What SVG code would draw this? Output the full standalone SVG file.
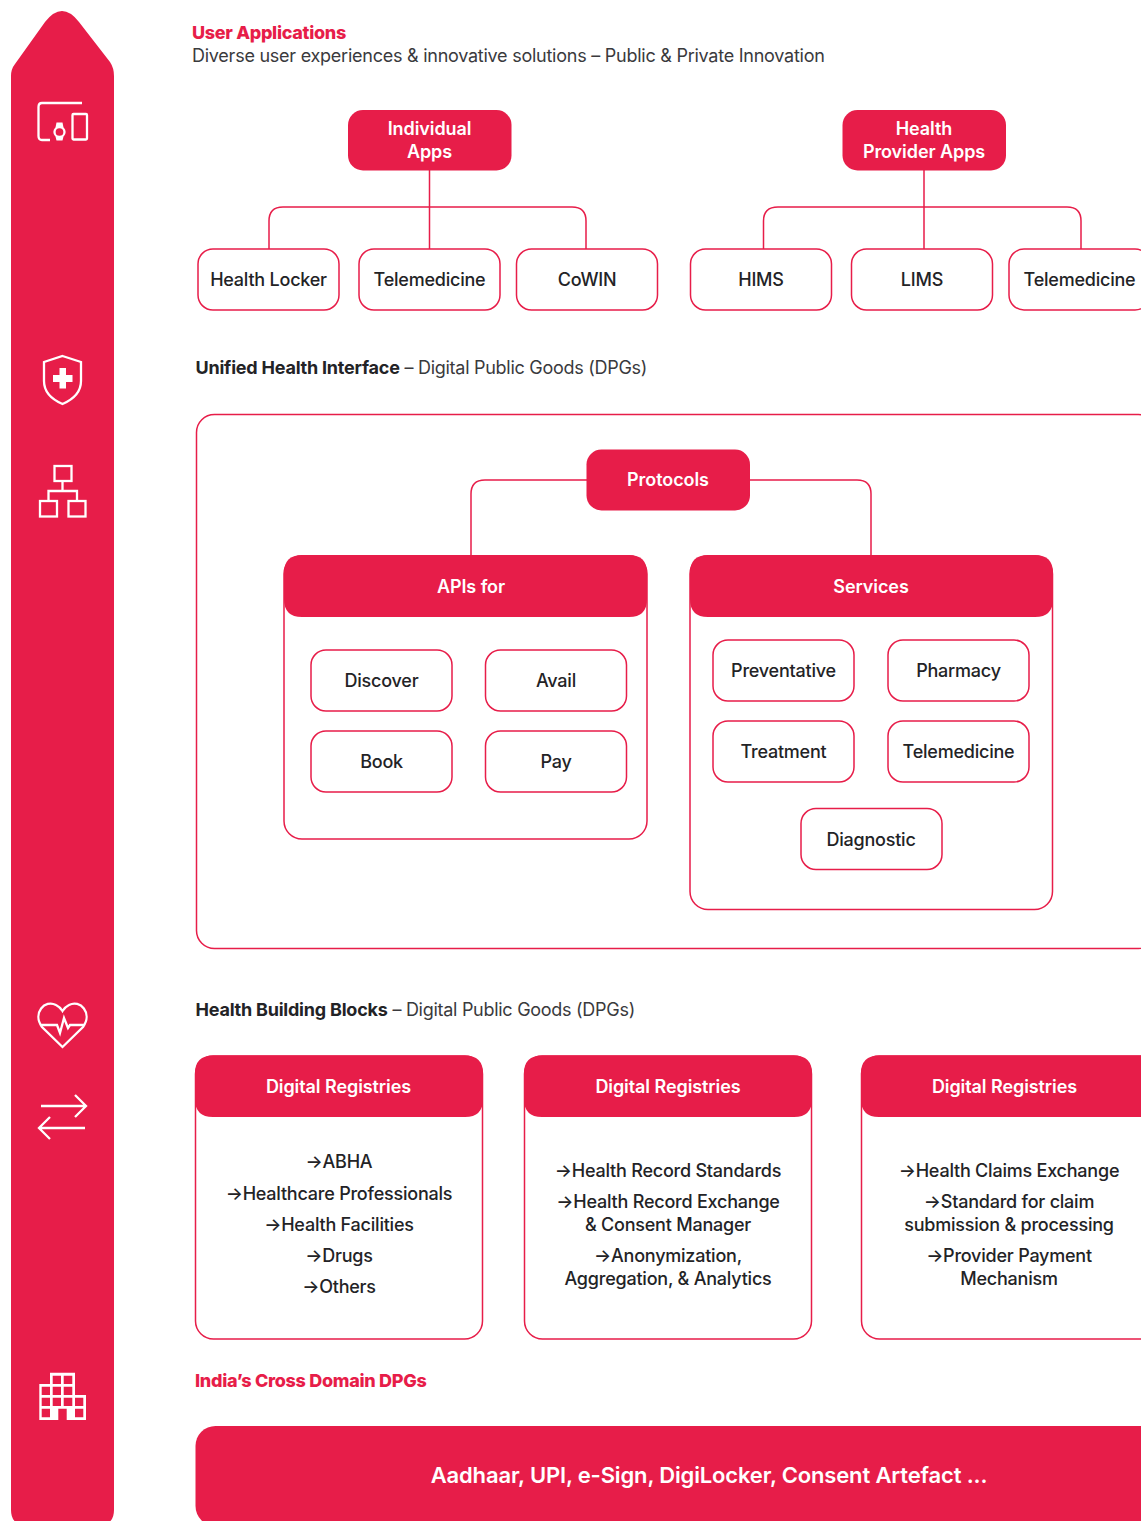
<svg xmlns="http://www.w3.org/2000/svg" width="1141" height="1521" viewBox="0 0 1141 1521">
<style>
text{font-family:Inter,"Liberation Sans",sans-serif;text-anchor:middle;font-size:18px;font-weight:500;fill:#232326;letter-spacing:-.22px}
.w{fill:#fff;font-weight:600;letter-spacing:-.08px}
.o{fill:#fff;stroke:#e71d49;stroke-width:1.5}
.f{fill:#e71d49}
.c{fill:none;stroke:#e71d49;stroke-width:1.5}
.i{fill:none;stroke:#fff;stroke-width:2.3}
.h{text-anchor:start}
.b{font-weight:700;letter-spacing:-.22px}
.r{font-weight:400;fill:#3a3a3d;letter-spacing:-.28px}
.red{fill:#e71d49;font-weight:800;letter-spacing:-.3px}
</style>
<defs>
<path id="hd" d="M0 61.500V18Q0 0 18 0H270Q288 0 288 18V43.500Q288 61.500 270 61.500H18Q0 61.500 0 43.500Z"/>
</defs>
<g id="rail">
<path class="f" d="M11 76Q11 69 15 64L45 22Q62 0 79 22L110 62Q114 68 114 76V1510Q114 1525 99 1525H26Q11 1525 11 1510Z"/>
<g class="i">
<path d="M82 103H42Q38.500 103 38.500 107V136Q38.500 140 42 140H50"/>
<rect x="72.500" y="114" width="14.500" height="25.500" rx="1"/>
<circle cx="59.500" cy="132" r="5"/>
<path d="M62.500 356L81 362V381Q81 396 62.500 404Q44 396 44 381V362Z"/>
<rect x="54.500" y="466" width="17" height="15"/>
<rect x="40" y="501" width="17" height="15.500"/>
<rect x="68.500" y="501" width="17" height="15.500"/>
<path d="M62.500 481V491M48.500 501V491H77V501"/>
<path d="M62.500 1047L42 1027C32 1013 45 999 56 1005Q60 1007 62.500 1011Q65 1007 69 1005C80 999 93 1013 83 1027Z"/>
<path d="M41 1025H57L60 1033L64 1018L68 1028L70 1025H84"/>
<path d="M41 1106H86M75 1095L86 1106L75 1117"/>
<path d="M85 1128H40M50 1117L39 1128L50 1139"/>
</g>
<path fill="#fff" d="M55.500 127.500L56.500 122.500H62.500L63.500 127.500ZM55.500 136.500L56.500 140.500H62.500L63.500 136.500Z"/>
<path fill="#fff" d="M59.500 368H66V375H72.500V382H66V388.500H59.500V382H53V375H59.500Z"/>
<path fill="#fff" fill-rule="evenodd" d="M50 1372.700H75V1395H86V1420H39.300V1384H50ZM52.700 1375.700V1384H61V1375.700ZM63.700 1375.700V1384H72.300V1375.700ZM41.700 1386.700V1395H50V1386.700ZM52.700 1386.700V1395H61V1386.700ZM63.700 1386.700V1395H72.300V1386.700ZM41.700 1397.700V1406H50V1397.700ZM52.700 1397.700V1406H61V1397.700ZM63.700 1397.700V1406H72.300V1397.700ZM75 1397.700V1406H83.300V1397.700ZM41.700 1408.700V1417.300H50V1408.700ZM75 1408.700V1417.300H83.300V1408.700ZM58.300 1408.700V1420H66.700V1408.700Z"/>
</g>
<g id="uhi"><rect class="o" x="196.500" y="414.500" width="960" height="534" rx="18"/></g>
<g id="connectors" class="c">
<path d="M429.500 170V249M269 249V221Q269 207 283 207H572Q586 207 586 221V249"/>
<path d="M924 170V249M763.500 249V221Q763.500 207 778 207H1067Q1081 207 1081 221V249"/>
<path d="M587 480H485Q471 480 471 494V555M750 480H857Q871 480 871 494V555"/>
</g>
<g id="titles">
<text class="h red" x="192" y="39">User Applications</text>
<text class="h r" x="192" y="62" style="letter-spacing:-.25px">Diverse user experiences &amp; innovative solutions – Public &amp; Private Innovation</text>
<text class="h" x="195.500" y="374"><tspan class="b">Unified Health Interface</tspan><tspan class="r"> – Digital Public Goods (DPGs)</tspan></text>
<text class="h" x="195.500" y="1016"><tspan class="b">Health Building Blocks</tspan><tspan class="r"> – Digital Public Goods (DPGs)</tspan></text>
<text class="h red" x="195" y="1387">India’s Cross Domain DPGs</text>
</g>
<g id="individual-apps"><rect class="f" x="348" y="110" width="163.500" height="60.500" rx="15"/><text class="w" x="429.500" y="135">Individual</text><text class="w" x="429.500" y="158">Apps</text></g>
<g id="provider-apps"><rect class="f" x="842.500" y="110" width="163.500" height="60.500" rx="15"/><text class="w" x="924" y="135">Health</text><text class="w" x="924" y="158">Provider Apps</text></g>
<g id="health-locker"><rect class="o" x="198" y="249" width="141" height="61" rx="15"/><text x="268.500" y="286">Health Locker</text></g>
<g id="telemedicine-1"><rect class="o" x="359" y="249" width="141" height="61" rx="15"/><text x="429.500" y="286">Telemedicine</text></g>
<g id="cowin"><rect class="o" x="516.500" y="249" width="141" height="61" rx="15"/><text x="587" y="286">CoWIN</text></g>
<g id="hims"><rect class="o" x="690.500" y="249" width="141" height="61" rx="15"/><text x="761" y="286">HIMS</text></g>
<g id="lims"><rect class="o" x="851.500" y="249" width="141" height="61" rx="15"/><text x="922" y="286">LIMS</text></g>
<g id="telemedicine-2"><rect class="o" x="1009" y="249" width="141" height="61" rx="15"/><text x="1079.500" y="286">Telemedicine</text></g>
<g id="protocols"><rect class="f" x="586.500" y="449.500" width="163.500" height="61" rx="15"/><text class="w" x="668" y="486">Protocols</text></g>
<g id="apis">
<rect class="o" x="284" y="556" width="363" height="283" rx="18"/>
<path class="f" d="M284 573Q284 555 302 555H629Q647 555 647 573V599Q647 617 629 617H302Q284 617 284 599Z"/>
<text class="w" x="471" y="593">APIs for</text>
</g>
<g id="discover"><rect class="o" x="311" y="650" width="141" height="61" rx="15"/><text x="381.500" y="687">Discover</text></g>
<g id="avail"><rect class="o" x="485.500" y="650" width="141" height="61" rx="15"/><text x="556" y="687">Avail</text></g>
<g id="book"><rect class="o" x="311" y="731" width="141" height="61" rx="15"/><text x="381.500" y="768">Book</text></g>
<g id="pay"><rect class="o" x="485.500" y="731" width="141" height="61" rx="15"/><text x="556" y="768">Pay</text></g>
<g id="services">
<rect class="o" x="690" y="556" width="362.500" height="353.500" rx="18"/>
<path class="f" d="M690 573Q690 555 708 555H1035Q1053 555 1053 573V599Q1053 617 1035 617H708Q690 617 690 599Z"/>
<text class="w" x="871" y="593">Services</text>
</g>
<g id="preventative"><rect class="o" x="713" y="640" width="141" height="61" rx="15"/><text x="783.500" y="677">Preventative</text></g>
<g id="pharmacy"><rect class="o" x="888" y="640" width="141" height="61" rx="15"/><text x="958.500" y="677">Pharmacy</text></g>
<g id="treatment"><rect class="o" x="713" y="721" width="141" height="61" rx="15"/><text x="783.500" y="758">Treatment</text></g>
<g id="telemedicine-3"><rect class="o" x="888" y="721" width="141" height="61" rx="15"/><text x="958.500" y="758">Telemedicine</text></g>
<g id="diagnostic"><rect class="o" x="801" y="808.500" width="141" height="61" rx="15"/><text x="871" y="846">Diagnostic</text></g>
<g id="registries-1">
<rect class="o" x="195.500" y="1056" width="287" height="283" rx="18"/>
<use href="#hd" class="f" x="195" y="1055.500"/>
<text class="w" x="338.500" y="1093">Digital Registries</text>
<text x="339" y="1168">→ABHA</text>
<text x="339" y="1200">→Healthcare Professionals</text>
<text x="339" y="1231">→Health Facilities</text>
<text x="339" y="1262">→Drugs</text>
<text x="339" y="1293">→Others</text>
</g>
<g id="registries-2">
<rect class="o" x="524.500" y="1056" width="287" height="283" rx="18"/>
<use href="#hd" class="f" x="524" y="1055.500"/>
<text class="w" x="668" y="1093">Digital Registries</text>
<text x="668" y="1177">→Health Record Standards</text>
<text x="668" y="1208">→Health Record Exchange</text>
<text x="668" y="1231">&amp; Consent Manager</text>
<text x="668" y="1262">→Anonymization,</text>
<text x="668" y="1285">Aggregation, &amp; Analytics</text>
</g>
<g id="registries-3">
<rect class="o" x="861.500" y="1056" width="320" height="283" rx="18"/>
<path class="f" d="M861 1073.500Q861 1055.500 879 1055.500H1180V1117H879Q861 1117 861 1099Z"/>
<text class="w" x="1004.500" y="1093">Digital Registries</text>
<text x="1009" y="1177">→Health Claims Exchange</text>
<text x="1009" y="1208">→Standard for claim</text>
<text x="1009" y="1231">submission &amp; processing</text>
<text x="1009" y="1262">→Provider Payment</text>
<text x="1009" y="1285">Mechanism</text>
</g>
<g id="cross-domain">
<rect class="f" x="195.500" y="1426" width="1000" height="100" rx="20"/>
<text class="w" x="709" y="1483" style="font-size:22px;letter-spacing:-.15px">Aadhaar, UPI, e-Sign, DigiLocker, Consent Artefact ...</text>
</g>
</svg>
